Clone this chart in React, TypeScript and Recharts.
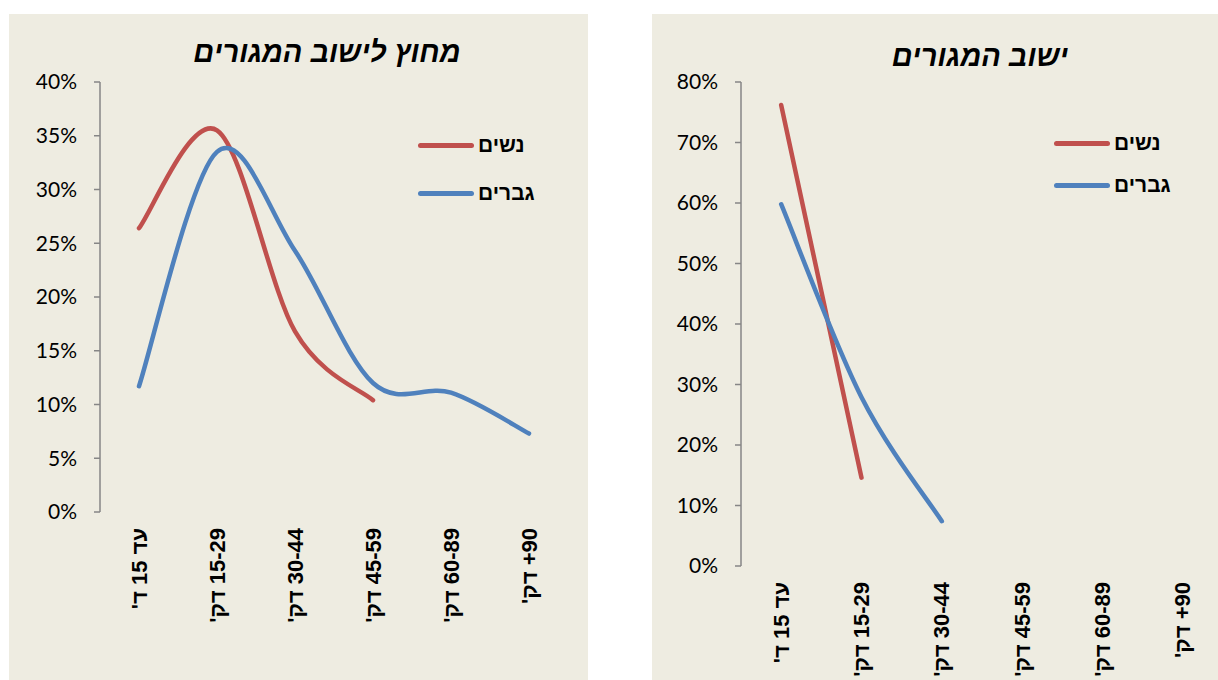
import React from 'react'
import { LineChart, Line, XAxis, YAxis } from 'recharts'

const CATEGORIES = ["עד 15 ד'", "15-29 דק'", "30-44 דק'", "45-59 דק'", "60-89 דק'", "+90 דק'"]

const OUT_WOMEN = [0.264, 0.355, 0.168, 0.104, null, null]
const OUT_MEN = [0.117, 0.335, 0.243, 0.12, 0.111, 0.073]
const HOME_WOMEN = [0.762, 0.146, null, null, null, null]
const HOME_MEN = [0.598, 0.279, 0.074, null, null, null]

const OUT_TICKS = [0, 0.05, 0.1, 0.15, 0.2, 0.25, 0.3, 0.35, 0.4]
const HOME_TICKS = [0, 0.1, 0.2, 0.3, 0.4, 0.5, 0.6, 0.7, 0.8]

const SERIES = [
  { key: 'women', name: 'נשים', color: '#C0504D' },
  { key: 'men', name: 'גברים', color: '#4F81BD' },
]

const BG = '#EEECE1'
const AXIS = '#868686'
const HEB = "'Liberation Sans', Arial, sans-serif"

// Excel style smoothing (Catmull-Rom through the points)
const excelSmooth = (context: any) => {
  let pts: number[][] = []
  return {
    areaStart() {},
    areaEnd() {},
    lineStart() { pts = [] },
    point(x: number, y: number) { pts.push([+x, +y]) },
    lineEnd() {
      const n = pts.length
      if (!n) return
      context.moveTo(pts[0][0], pts[0][1])
      for (let i = 0; i < n - 1; i++) {
        const p0 = pts[i - 1] || pts[i]
        const p1 = pts[i]
        const p2 = pts[i + 1]
        const p3 = pts[i + 2] || p2
        context.bezierCurveTo(
          p1[0] + (p2[0] - p0[0]) / 6, p1[1] + (p2[1] - p0[1]) / 6,
          p2[0] - (p3[0] - p1[0]) / 6, p2[1] - (p3[1] - p1[1]) / 6,
          p2[0], p2[1])
      }
    },
  }
}

// right-to-left embedding for the category labels (keeps "+90" together)
const rtl = (s: string) => '\u202B' + s.replace(/^\+(\d+)/, '\u200E+$1') + '\u202C'
const pct = (v: number) => `${Math.round(v * 100)}%`

const CatTick = ({ x, y, payload }: any) => (
  <text x={x} y={y + 16} transform={`rotate(-90 ${x} ${y + 16})`} textAnchor="end" dominantBaseline="central"
    fontFamily={HEB} fontWeight="bold" fontSize={22} fill="#000">
    {rtl(payload.value)}
  </text>
)

interface PanelProps {
  title: string
  left: number
  width: number
  women: (number | null)[]
  men: (number | null)[]
  ticks: number[]
  yWidth: number
  xHeight: number
  marginRight: number
  titleX: number
  titleY: number
  legend: { x: number, y: number, gap: number }
}

function Panel(p: PanelProps) {
  const rows = CATEGORIES.map((c, i) => ({ cat: c, women: p.women[i], men: p.men[i] }))
  const bounds = CATEGORIES.map((_, i) => i).concat(CATEGORIES.length)
  return (
    <div style={{ position: 'absolute', left: p.left, top: 14, width: p.width, height: 666, background: BG }}>
      <div style={{ position: 'absolute', left: p.titleX - 200, width: 400, top: p.titleY, textAlign: 'center', direction: 'rtl',
        fontFamily: HEB, fontWeight: 'bold', fontStyle: 'italic', fontSize: 29, lineHeight: '34px', color: '#000' }}>
        {p.title}
      </div>
      <LineChart width={p.width} height={666} data={rows} margin={{ top: 68, right: p.marginRight, left: 0, bottom: 0 }}>
        <XAxis xAxisId="grid" type="number" domain={[0, CATEGORIES.length]} ticks={bounds} allowDataOverflow
          height={0} tick={false} tickSize={6} stroke={AXIS} strokeWidth={1.5} />
        <XAxis xAxisId="cat" dataKey="cat" scale="band" height={p.xHeight} axisLine={false} tickLine={false}
          tickSize={0} tickMargin={0} interval={0} tick={<CatTick />} />
        <YAxis type="number" domain={[0, p.ticks[p.ticks.length - 1]]} ticks={p.ticks} width={p.yWidth}
          tickFormatter={pct} tickSize={6} tickMargin={17} stroke={AXIS} strokeWidth={1.5}
          tick={{ fill: '#000', fontSize: 21, fontFamily: 'Lato' }} />
        {SERIES.map(s => (
          <Line key={s.key} xAxisId="cat" dataKey={s.key} name={s.name} type={excelSmooth as any} stroke={s.color}
            strokeWidth={4.5} strokeLinecap="round" dot={false} activeDot={false} isAnimationActive={false} />
        ))}
      </LineChart>
      {SERIES.map((s, i) => (
        <div key={s.key} style={{ position: 'absolute', left: p.legend.x, top: p.legend.y + i * p.legend.gap - 14,
          height: 28, display: 'flex', alignItems: 'center' }}>
          <span style={{ display: 'inline-block', width: 56, height: 5, borderRadius: 3, background: s.color, marginRight: 4 }} />
          <span style={{ fontFamily: HEB, fontWeight: 'bold', fontSize: 21, color: '#000' }}>{s.name}</span>
        </div>
      ))}
    </div>
  )
}

export default function App() {
  return (
    <div style={{ position: 'fixed', left: 0, top: 0, width: 1218, height: 680, background: '#fff', overflow: 'hidden' }}>
      <Panel title="מחוץ לישוב המגורים" left={9} width={579} women={OUT_WOMEN} men={OUT_MEN} ticks={OUT_TICKS}
        yWidth={91} xHeight={168} marginRight={20} titleX={318} titleY={21} legend={{ x: 409, y: 131, gap: 48 }} />
      <Panel title="ישוב המגורים" left={652} width={580} women={HOME_WOMEN} men={HOME_MEN} ticks={HOME_TICKS}
        yWidth={89} xHeight={114} marginRight={9} titleX={328} titleY={25} legend={{ x: 402, y: 129, gap: 42 }} />
    </div>
  )
}
